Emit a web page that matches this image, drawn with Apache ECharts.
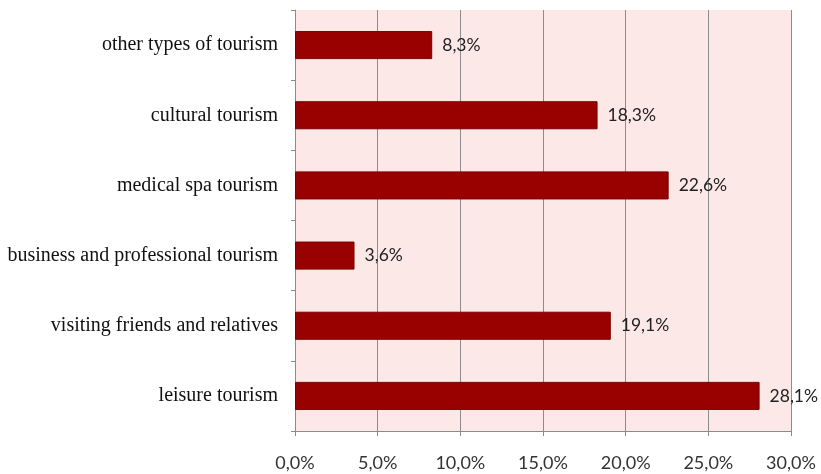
<!DOCTYPE html>
<html>
<head>
<meta charset="utf-8">
<script src="https://cdn.jsdelivr.net/npm/echarts@6/dist/echarts.min.js"></script>
<style>
  html, body { margin: 0; padding: 0; background: #ffffff; }
  #chart { width: 821px; height: 474px; }
</style>
</head>
<body>
<div id="chart"></div>
<script>
// Tourism types, listed bottom to top
const categories = [
  'leisure tourism',
  'visiting friends and relatives',
  'business and professional tourism',
  'medical spa tourism',
  'cultural tourism',
  'other types of tourism'
];
// Share of each type, in percent
const shares = [28.1, 19.1, 3.6, 22.6, 18.3, 8.3];

const pct = v => v.toFixed(1).replace('.', ',') + '%';

const chart = echarts.init(document.getElementById('chart'), null, { renderer: 'canvas' });
chart.setOption({
  animation: false,
  backgroundColor: '#ffffff',
  grid: {
    left: 295, right: 30, top: 10, bottom: 43,
    show: true,
    backgroundColor: '#fde8e8',
    borderWidth: 0
  },
  xAxis: {
    type: 'value',
    min: 0, max: 30, interval: 5,
    axisLine: { show: true, lineStyle: { color: '#8c8c8c', width: 1 } },
    axisTick: { show: true, length: 5, lineStyle: { color: '#8c8c8c' } },
    splitLine: { show: true, lineStyle: { color: '#8c8c8c', width: 1 } },
    axisLabel: {
      formatter: pct,
      margin: 23,
      color: '#333333',
      fontFamily: 'Lato, "Open Sans", sans-serif',
      fontSize: 18
    }
  },
  yAxis: {
    type: 'category',
    data: categories,
    axisLine: { show: true, lineStyle: { color: '#8c8c8c', width: 1 } },
    axisTick: { show: true, length: 4, lineStyle: { color: '#8c8c8c' } },
    axisLabel: {
      margin: 17,
      color: '#111111',
      fontFamily: '"Liberation Serif", "DejaVu Serif", serif',
      fontSize: 20
    }
  },
  series: [{
    type: 'bar',
    data: shares,
    barWidth: '40%',
    itemStyle: { color: '#990000', borderColor: '#7a0000', borderWidth: 1 },
    label: {
      show: true,
      position: 'right',
      distance: 10,
      formatter: p => pct(p.value),
      color: '#222222',
      fontFamily: 'Lato, "Open Sans", sans-serif',
      fontSize: 17.5
    }
  }]
});
</script>
</body>
</html>
